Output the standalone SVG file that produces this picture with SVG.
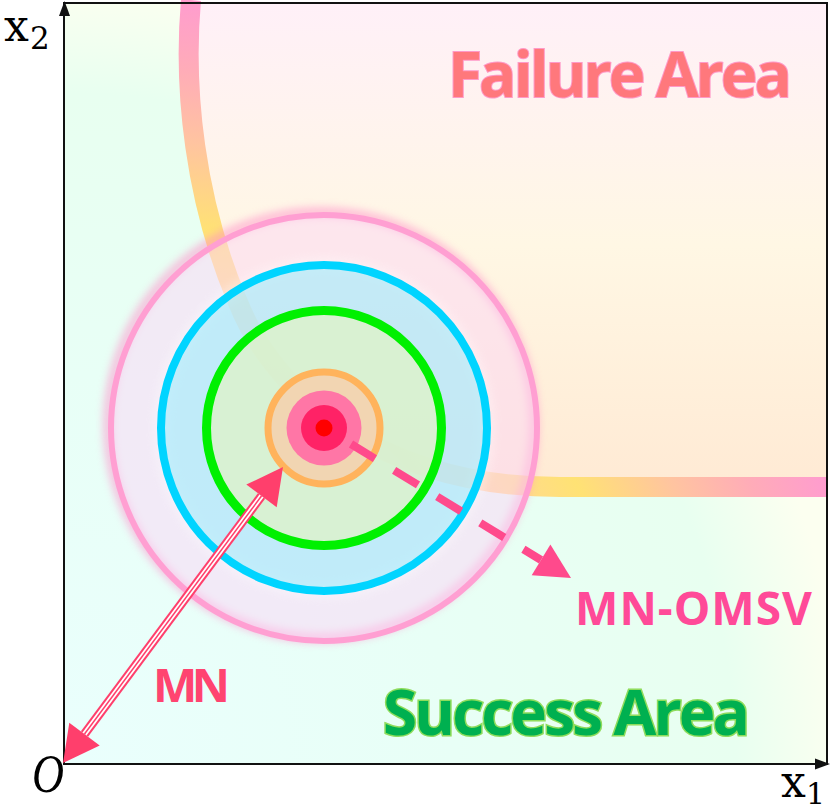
<svg xmlns="http://www.w3.org/2000/svg" width="831" height="812" viewBox="0 0 831 812">
<style>
.lbl{font-family:"Open Sans","Noto Sans","Liberation Sans",sans-serif;font-weight:700}
.math{font-family:"DejaVu Serif","Liberation Serif",serif;fill:#000}
.axis{stroke:#111;stroke-width:2;fill:none}
.head{fill:#111}
.mn{fill:#ff3f6c}
.omsv{fill:#ff4a8c}
</style>
<defs>
<radialGradient id="gSuccess" gradientUnits="userSpaceOnUse" cx="64" cy="764" r="780">
<stop offset="0" stop-color="#eafffd"/>
<stop offset="0.5" stop-color="#e8fff6"/>
<stop offset="0.86" stop-color="#e8fff0"/>
<stop offset="1" stop-color="#fcfff0"/>
</radialGradient>
<linearGradient id="gFail" gradientUnits="userSpaceOnUse" x1="0" y1="3" x2="0" y2="487">
<stop offset="0" stop-color="#fff0f8"/>
<stop offset="0.5" stop-color="#fff7e4"/>
<stop offset="1" stop-color="#ffead4"/>
</linearGradient>
<radialGradient id="gBand" gradientUnits="userSpaceOnUse" cx="146" cy="717" r="720">
<stop offset="0" stop-color="#ffc8a8"/>
<stop offset="0.5" stop-color="#ffd2a8"/>
<stop offset="0.68" stop-color="#ffe274"/>
<stop offset="0.8" stop-color="#ffc4a0"/>
<stop offset="0.9" stop-color="#ffacb8"/>
<stop offset="1" stop-color="#ff9ccf"/>
</radialGradient>
<clipPath id="box"><rect x="64" y="3" width="763" height="761"/></clipPath>
<filter id="blur" x="-20%" y="-20%" width="140%" height="140%"><feGaussianBlur stdDeviation="4"/></filter>
</defs>

<g id="success-region">
<rect x="64" y="3" width="763" height="761" fill="url(#gSuccess)"/>
</g>

<g id="failure-region">
<path clip-path="url(#box)" d="M191,0 C183,90 195,200 237,300 C280,410 400,487 560,487 L827,487 L827,0 Z" fill="url(#gFail)"/>
<path d="M191,0 C183,90 195,200 237,300 C280,410 400,487 560,487 L827,487" fill="none" stroke="url(#gBand)" stroke-width="20"/>
</g>

<g id="circles">
<circle cx="321" cy="425" r="213" fill="none" stroke="#ff8cc8" stroke-width="9" opacity="0.6" filter="url(#blur)"/>
<circle cx="324" cy="428" r="213" fill="#fcd6f6" fill-opacity="0.5" stroke="#ff9fd2" stroke-width="6"/>
<circle cx="324" cy="428" r="163" fill="none" stroke="#ffffff" stroke-width="16" opacity="0.3" filter="url(#blur)"/>
<circle cx="324" cy="428" r="163" fill="#a8ecfa" fill-opacity="0.68" stroke="#00d4ff" stroke-width="8"/>
<circle cx="324" cy="428" r="117.5" fill="#e0f3c6" fill-opacity="0.75" stroke="#00f000" stroke-width="9"/>
<circle cx="324" cy="428" r="56" fill="#f4d2ae" fill-opacity="0.9" stroke="#ffb35c" stroke-width="7"/>
<circle cx="324" cy="428" r="37.5" fill="#ff76a6"/>
<circle cx="324" cy="428" r="23" fill="#ff2266"/>
<circle cx="324" cy="428" r="8.5" fill="#ff0000"/>
</g>

<g id="axes">
<rect class="axis" x="64" y="3" width="763" height="761"/>
<polygon class="head" points="64.5,1 59,16 70,16"/>
<polygon class="head" points="830,764 815,758.5 815,769.5"/>
</g>

<g id="connectors">
<g id="mn-arrow">
<path d="M84.5,734 L261.5,496" stroke="#ff3f6c" stroke-width="9" fill="none"/>
<path d="M84.5,734 L261.5,496" stroke="#ffffff" stroke-width="5" fill="none"/>
<path d="M84.5,734 L261.5,496" stroke="#ff3f6c" stroke-width="1.5" fill="none"/>
<polygon class="mn" points="283,467 276.7,507.2 246.3,484.6"/>
<polygon class="mn" points="63,763 69.3,722.8 99.7,745.4"/>
</g>
<g id="omsv-arrow">
<path d="M351,444 L541,560" stroke="#ff4a8c" stroke-width="8" stroke-dasharray="28 22.5" fill="none"/>
<polygon class="omsv" points="571,578 550.4,544.4 531.7,575.2"/>
</g>
</g>

<g id="label-failure">
<text class="lbl" x="448" y="97" font-size="62" textLength="344" fill="#ff787c" stroke="#ff9ac8" stroke-width="2" paint-order="stroke">Failure Area</text>
</g>
<g id="label-success">
<text class="lbl" x="383" y="735" font-size="62" textLength="367" fill="#00b050" stroke="#8fdc5c" stroke-width="3" paint-order="stroke">Success Area</text>
</g>
<g id="label-mn">
<text class="lbl" x="153" y="702" font-size="47" textLength="77" fill="#ff4470">MN</text>
</g>
<g id="label-omsv">
<text class="lbl" x="575" y="625" font-size="46" textLength="237" fill="#ff4a98">MN-OMSV</text>
</g>
<g id="label-x2">
<text class="math" x="4" y="41" font-size="44">x</text>
<text class="math" x="30" y="49" font-size="31">2</text>
</g>
<g id="label-x1">
<text class="math" x="781" y="797" font-size="44">x</text>
<text class="math" x="806" y="804" font-size="30">1</text>
</g>
<g id="label-o">
<text x="32" y="792" font-size="54" font-style="italic" font-family="'Liberation Serif','DejaVu Serif',serif" textLength="32" lengthAdjust="spacingAndGlyphs">O</text>
</g>
</svg>
